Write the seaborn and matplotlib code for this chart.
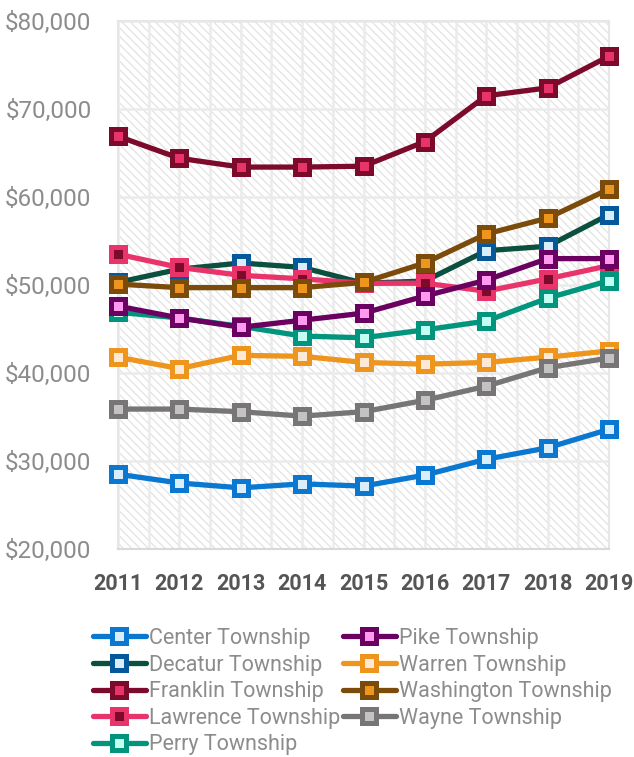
import pandas as pd
import matplotlib
matplotlib.use('Agg')
import matplotlib.pyplot as plt
import seaborn as sns
from matplotlib.patches import Rectangle
from matplotlib.ticker import MultipleLocator, FuncFormatter

sns.set_style('white')
plt.rcParams['font.family'] = ['Roboto', 'DejaVu Sans']
plt.rcParams['hatch.color'] = '#e0e0e0'
plt.rcParams['hatch.linewidth'] = 0.8

years = list(range(2011, 2020))

# Median household income by township
data = {
    'Center Township':     [28500, 27500, 26950, 27400, 27150, 28400, 30200, 31500, 33600],
    'Decatur Township':    [50300, 51800, 52500, 52000, 50200, 50450, 53900, 54400, 58000],
    'Franklin Township':   [66900, 64400, 63400, 63400, 63500, 66300, 71500, 72400, 76000],
    'Lawrence Township':   [53500, 52000, 51100, 50700, 50200, 50200, 49300, 50700, 52200],
    'Perry Township':      [46900, 46250, 45300, 44200, 44000, 44900, 45900, 48500, 50500],
    'Pike Township':       [47600, 46250, 45200, 46000, 46800, 48750, 50550, 53000, 53000],
    'Warren Township':     [41800, 40500, 42000, 41900, 41200, 41000, 41200, 41800, 42500],
    'Washington Township': [50100, 49700, 49700, 49700, 50300, 52500, 55800, 57600, 60900],
    'Wayne Township':      [35900, 35900, 35600, 35100, 35600, 36900, 38500, 40600, 41700],
}
df = pd.DataFrame(data, index=years)

# line colour, marker edge colour, marker fill colour
styles = {
    'Center Township':     ('#0a77d0', '#0a77d0', '#d9edfb'),
    'Decatur Township':    ('#0b4f3f', '#05589a', '#d9edfb'),
    'Franklin Township':   ('#7b0a2b', '#7b0a2b', '#e8336b'),
    'Lawrence Township':   ('#e8336b', '#e8336b', '#7b0a2b'),
    'Perry Township':      ('#00957c', '#00957c', '#c2fff2'),
    'Pike Township':       ('#6a0060', '#6a0060', '#ff9af0'),
    'Warren Township':     ('#ee951d', '#ee951d', '#fde9d5'),
    'Washington Township': ('#7a4b0b', '#7a4b0b', '#ee951d'),
    'Wayne Township':      ('#777575', '#777575', '#c3c3c3'),
}

fig = plt.figure(figsize=(6.34, 7.57), dpi=100)
ax = fig.add_axes([118 / 634, 1 - 549 / 757, (609 - 118) / 634, (549 - 21) / 757])

# hatched background
ax.add_patch(Rectangle((0, 0), 1, 1, transform=ax.transAxes, facecolor='white',
                       edgecolor='#e0e0e0', hatch='\\\\\\\\', lw=0, zorder=0))

for name in df.columns:
    line_c, edge_c, fill_c = styles[name]
    sns.lineplot(x=df.index, y=df[name], ax=ax, color=line_c, lw=3.8,
                 marker='s', markersize=9.5, markeredgewidth=3.6,
                 markeredgecolor=edge_c, markerfacecolor=fill_c,
                 solid_capstyle='round', solid_joinstyle='round',
                 label=name, clip_on=False, zorder=3)

ax.set_xlim(2011, 2019)
ax.set_ylim(20000, 80000)
ax.xaxis.set_major_locator(MultipleLocator(1))
ax.xaxis.set_minor_locator(MultipleLocator(0.5))
ax.yaxis.set_major_locator(MultipleLocator(10000))
ax.yaxis.set_major_formatter(FuncFormatter(lambda v, p: f'${v:,.0f}'))

ax.set_axisbelow(True)
ax.grid(True, which='both', axis='x', color='#ebebeb', lw=1.8)
ax.grid(True, which='major', axis='y', color='#ebebeb', lw=1.8)
for s in ax.spines.values():
    s.set_color('#e6e6e6')
    s.set_linewidth(1.5)
ax.spines['bottom'].set_color('#d9d9d9')

ax.tick_params(axis='both', which='both', length=0)
ax.tick_params(axis='y', pad=19, labelsize=17.5, labelcolor='#8c8c8c')
ax.tick_params(axis='x', pad=17, labelcolor='#555555')
for lab in ax.get_xticklabels():
    lab.set_fontweight('bold')
    lab.set_fontsize(15.5)
ax.set_xlabel('')
ax.set_ylabel('')
if ax.get_legend() is not None:
    ax.get_legend().remove()

handles, labels = ax.get_legend_handles_labels()
leg = fig.legend(handles, labels, loc='upper left', ncol=2,
                 bbox_to_anchor=(93 / 634, 1 - 628 / 757),
                 frameon=False, borderpad=0, borderaxespad=0,
                 fontsize=15.5, handlelength=2.45, handletextpad=0.15,
                 columnspacing=0.12, labelspacing=0.26)
for t in leg.get_texts():
    t.set_color('#8c8c8c')

fig.savefig('out.png', dpi=100)
